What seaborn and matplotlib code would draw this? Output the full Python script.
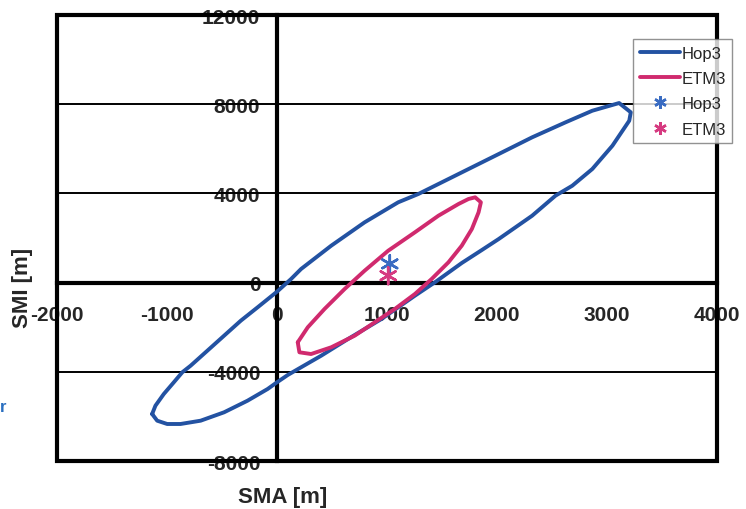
import numpy as np
import pandas as pd
import matplotlib
matplotlib.use("Agg")
import matplotlib.pyplot as plt
import seaborn as sns
from matplotlib.lines import Line2D
from matplotlib.patches import Rectangle

# Error ellipse outlines (SMA, SMI in metres), traced in order
hop3_sma = [-1135, -1105, -1029, -938, -861, -785, -633, -481, -329, -176, 0, 128, 219, 493,
            797, 1102, 1285, 1559, 1711, 2016, 2320, 2624, 2867, 3111, 3217, 3203, 3050,
            2867, 2685, 2532, 2320, 2016, 1863, 1680, 1436, 1254, 950, 646, 402, 219, 98, 0,
            -85, -268, -481, -694, -877, -998, -1089, -1135]
hop3_smi = [-5892, -5520, -4995, -4471, -4022, -3726, -3054, -2381, -1708, -1108, -408, 161,
            610, 1655, 2704, 3601, 3973, 4645, 5018, 5766, 6515, 7188, 7708, 8053, 7636, 7260,
            6139, 5094, 4345, 3897, 3000, 1955, 1462, 879, 13, -587, -1632, -2529, -3278,
            -3798, -4143, -4471, -4771, -5296, -5816, -6192, -6340, -6340, -6192, -5892]

etm3_sma = [189, 280, 432, 615, 797, 1011, 1254, 1468, 1650, 1741, 1802, 1854, 1833, 1772,
            1680, 1559, 1406, 1254, 1071, 889, 706, 493, 310, 204, 189]
etm3_smi = [-2677, -2004, -1184, -287, 534, 1430, 2255, 3000, 3524, 3749, 3825, 3601, 3152,
            2403, 1655, 910, 161, -511, -1184, -1780, -2381, -2901, -3202, -3125, -2677]

# Centre points
point_names = ["Hop3", "ETM3"]
point_sma = [1026, 1011]
point_smi = [840, 310]

x_ticks = [-2000, -1000, 0, 1000, 2000, 3000, 4000]
y_ticks = [-8000, -4000, 0, 4000, 8000, 12000]

BLUE = "#2352a2"
PINK = "#d02a6e"
BLUE_PT = "#3a6cc2"
PINK_PT = "#d63a80"

sns.set_style("white")
plt.rcParams["font.family"] = ["Liberation Sans", "DejaVu Sans"]
plt.rcParams["lines.solid_joinstyle"] = "round"

ellipses = pd.concat([
    pd.DataFrame({"sma": hop3_sma, "smi": hop3_smi, "series": "Hop3"}),
    pd.DataFrame({"sma": etm3_sma, "smi": etm3_smi, "series": "ETM3"}),
])
points = pd.DataFrame({"sma": point_sma, "smi": point_smi, "series": point_names})

fig = plt.figure(figsize=(7.46, 5.10), dpi=100)
ax = fig.add_axes([0.0764, 0.0941, 0.961 - 0.0764, 0.9686 - 0.0941])

for y in [-4000, 4000, 8000]:
    ax.axhline(y, color="black", lw=1.4, zorder=1)

sns.lineplot(data=ellipses, x="sma", y="smi", hue="series", sort=False, estimator=None,
             palette={"Hop3": BLUE, "ETM3": PINK}, linewidth=2.8, legend=False, ax=ax, zorder=3)
sns.scatterplot(data=points, x="sma", y="smi", hue="series",
                palette={"Hop3": BLUE_PT, "ETM3": PINK_PT}, marker=(6, 2, 0), s=150,
                linewidth=1.8, legend=False, ax=ax, zorder=4)

ax.set_xlim(-2000, 4000)
ax.set_ylim(-8000, 12000)

# axes crossing at the origin, plus a heavy frame
for side in ["top", "right"]:
    ax.spines[side].set_visible(False)
ax.spines["left"].set_position(("data", 0))
ax.spines["bottom"].set_position(("data", 0))
for side in ["left", "bottom"]:
    ax.spines[side].set_linewidth(3)
    ax.spines[side].set_color("black")
    ax.spines[side].set_zorder(2)
ax.add_patch(Rectangle((0, 0), 1, 1, transform=ax.transAxes, fill=False, lw=3,
                       edgecolor="black", clip_on=False, zorder=2))

ax.set_xticks(x_ticks)
ax.set_yticks(y_ticks)
ax.set_xticklabels([str(t) for t in x_ticks], fontsize=15, fontweight="bold")
ax.set_yticklabels([str(t) for t in y_ticks], fontsize=15, fontweight="bold")
ax.tick_params(axis="both", direction="out", length=6, width=2, color="black")
ax.tick_params(axis="x", pad=10)
ax.tick_params(axis="y", pad=6)

ax.set_xlabel("SMA [m]", fontsize=16, fontweight="bold")
ax.set_ylabel("SMI [m]", fontsize=16, fontweight="bold")
ax.xaxis.set_label_coords(0.342, -0.055)
ax.yaxis.set_label_coords(-0.036, 0.39)

handles = [
    Line2D([], [], color=BLUE, lw=2.8),
    Line2D([], [], color=PINK, lw=2.8),
    Line2D([], [], color=BLUE_PT, lw=0, marker=(6, 2, 0), markersize=9, markeredgewidth=1.8),
    Line2D([], [], color=PINK_PT, lw=0, marker=(6, 2, 0), markersize=9, markeredgewidth=1.8),
]
leg = fig.legend(handles, ["Hop3", "ETM3", "Hop3", "ETM3"], loc="upper left",
                 bbox_to_anchor=(0.8485, 0.9216), fontsize=12, frameon=True, fancybox=False,
                 edgecolor="#777777", handlelength=2.4, handletextpad=0.1,
                 labelspacing=0.62, borderpad=0.4, borderaxespad=0)
leg.get_frame().set_linewidth(1.0)

fig.text(0.0, 0.2, "r", color="#2a6fc0", fontsize=12, fontweight="bold", va="center")

fig.savefig("out.png", dpi=100, facecolor="white")
